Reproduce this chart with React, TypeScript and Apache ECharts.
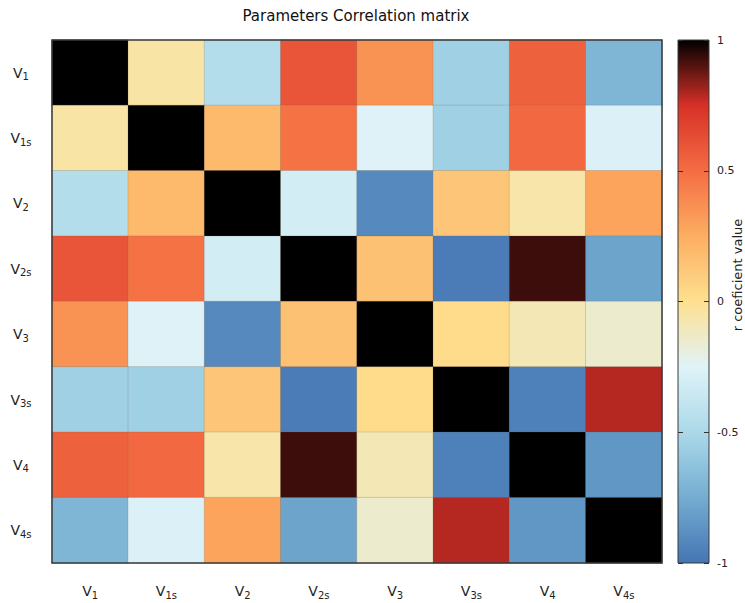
import React, { useEffect, useRef } from "react";
import * as echarts from "echarts";

// Parameter names (base letter + subscript)
const paramBase = ["V", "V", "V", "V", "V", "V", "V", "V"];
const paramSub = ["1", "1s", "2", "2s", "3", "3s", "4", "4s"];

// Correlation coefficients, one row per parameter (same order as columns)
const rowV1 = [1, -0.05, -0.46, 0.6, 0.355, -0.55, 0.55, -0.7];
const rowV1s = [-0.05, 1, 0.19, 0.48, -0.26, -0.55, 0.52, -0.27];
const rowV2 = [-0.46, 0.19, 1, -0.31, -0.91, 0.135, -0.06, 0.29];
const rowV2s = [0.6, 0.48, -0.31, 1, 0.155, -0.97, 0.93, -0.79];
const rowV3 = [0.355, -0.26, -0.91, 0.155, 1, 0.02, -0.09, -0.15];
const rowV3s = [-0.55, -0.55, 0.135, -0.97, 0.02, 1, -0.95, 0.79];
const rowV4 = [0.55, 0.52, -0.06, 0.93, -0.09, -0.95, 1, -0.85];
const rowV4s = [-0.7, -0.27, 0.29, -0.79, -0.15, 0.79, -0.85, 1];

// Colour bar tick values
const barTicks = [-1, -0.5, 0, 0.5, 1];

// Colour map from r = -1 (bottom) to r = 1 (top), evenly spaced
const cmap = [
  "#4575b4",
  "#74add1",
  "#abd9e9",
  "#e0f3f8",
  "#fee090",
  "#fdae61",
  "#f46d43",
  "#d73027",
  "#000000",
];

const FONT = "DejaVu Sans";
const PLOT = { left: 52, top: 40, width: 610, height: 523 };
const BAR = { left: 678, top: 40, width: 31, height: 523 };

export default function App() {
  const ref = useRef<HTMLDivElement>(null);

  useEffect(() => {
    if (!ref.current) return;
    const chart = echarts.init(ref.current, undefined, { renderer: "svg" });

    const rows = [rowV1, rowV1s, rowV2, rowV2s, rowV3, rowV3s, rowV4, rowV4s];
    const cats = paramSub.map((s, i) => paramBase[i] + "_" + s);
    const data: [number, number, number][] = [];
    rows.forEach((row, r) => row.forEach((v, c) => data.push([c, r, v])));

    const labelFmt = (val: string) => {
      const [b, s] = val.split("_");
      return `{m|${b}}{s|${s}}`;
    };
    const rich = {
      m: { fontFamily: FONT, fontSize: 14, color: "#222" },
      s: { fontFamily: FONT, fontSize: 10, color: "#222", padding: [8, 0, 0, 0] },
    };

    // gradient runs top (r = 1) to bottom (r = -1), offsets ascending
    const gradStops = cmap
      .slice()
      .reverse()
      .map((c, i) => ({ offset: i / (cmap.length - 1), color: c }));

    const barTickAxis = {
      type: "value",
      gridIndex: 1,
      min: -1,
      max: 1,
      interval: 0.5,
      z: 10,
      axisLine: { show: false, onZero: false },
      splitLine: { show: false },
      axisTick: { show: true, inside: true, length: 5, lineStyle: { color: "#333", width: 1 } },
    };

    chart.setOption({
      animation: false,
      backgroundColor: "#fff",
      title: {
        text: "Parameters Correlation matrix",
        left: PLOT.left + PLOT.width / 2 - 6,
        textAlign: "center",
        top: 3,
        textStyle: { fontFamily: FONT, fontSize: 15, fontWeight: "normal", color: "#111" },
      },
      grid: [
        { ...PLOT, containLabel: false },
        { ...BAR, containLabel: false },
      ],
      xAxis: [
        {
          type: "category",
          data: cats,
          gridIndex: 0,
          axisLine: { show: false },
          axisTick: { show: false },
          splitLine: { show: false },
          axisLabel: { formatter: labelFmt, rich, margin: 19, interval: 0 },
        },
        { type: "value", gridIndex: 1, show: false, min: 0, max: 1 },
      ],
      yAxis: [
        {
          type: "category",
          data: cats,
          inverse: true,
          gridIndex: 0,
          axisLine: { show: false },
          axisTick: { show: false },
          splitLine: { show: false },
          axisLabel: { formatter: labelFmt, rich, margin: 31, interval: 0, align: "center" },
        },
        {
          ...barTickAxis,
          position: "right",
          axisLabel: {
            margin: 8,
            fontFamily: FONT,
            fontSize: 11,
            color: "#222",
            formatter: (v: number) => (barTicks.includes(v) ? String(v) : ""),
          },
        },
        {
          ...barTickAxis,
          position: "left",
          axisLabel: { show: false },
        },
      ],
      visualMap: {
        type: "continuous",
        show: false,
        min: -1,
        max: 1,
        seriesIndex: 0,
        inRange: { color: cmap },
      },
      graphic: [
        {
          type: "rect",
          z: 1,
          shape: { x: BAR.left, y: BAR.top, width: BAR.width, height: BAR.height },
          style: {
            fill: new echarts.graphic.LinearGradient(0, 0, 0, 1, gradStops),
            stroke: "#3a3a3a",
            lineWidth: 1,
          },
        },
        {
          type: "rect",
          z: 100,
          shape: { x: PLOT.left, y: PLOT.top, width: PLOT.width, height: PLOT.height },
          style: { fill: "none", stroke: "#3a3a3a", lineWidth: 1.5 },
        },
        {
          type: "text",
          x: 737,
          y: 275,
          rotation: Math.PI / 2,
          style: {
            text: "r coeficient value",
            fontFamily: FONT,
            fontSize: 13,
            fill: "#222",
            align: "center",
            verticalAlign: "middle",
          },
        },
      ],
      series: [
        {
          type: "heatmap",
          xAxisIndex: 0,
          yAxisIndex: 0,
          data,
          itemStyle: { borderColor: "rgba(110,95,70,0.35)", borderWidth: 0.6 },
          emphasis: { disabled: true },
        },
      ],
    });

    return () => chart.dispose();
  }, []);

  return (
    <div
      ref={ref}
      style={{ position: "fixed", left: 0, top: 0, width: 745, height: 603 }}
    />
  );
}
